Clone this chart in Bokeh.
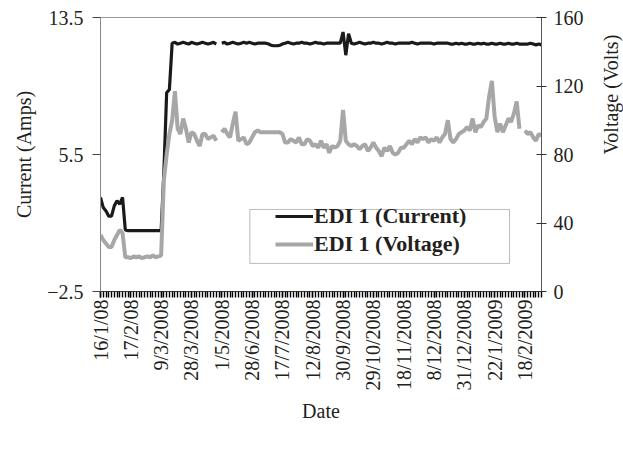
import math
import numpy as np
from bokeh.plotting import figure
from bokeh.models import (Range1d, LinearAxis, FixedTicker, Legend, LegendItem,
                          BoxAnnotation, ColumnDataSource)
from bokeh.embed import file_html
from bokeh.resources import INLINE

nan = float("nan")

# ---- data -------------------------------------------------------------
tick_labels = ["16/1/08", "17/2/08", "9/3/2008", "28/3/2008", "1/5/2008",
               "28/6/2008", "17/7/2008", "12/8/2008", "30/9/2008",
               "29/10/2008", "18/11/2008", "8/12/2008", "31/12/2008",
               "22/1/2009", "18/2/2009"]
label_step = 11

current_amps = [
    3.0, 2.4, 2.2, 1.9, 1.9, 2.5, 2.8, 2.6, 3.0, 1.1,            # 0-9
    1.05, 1.05, 1.05, 1.05, 1.05, 1.05, 1.05, 1.05, 1.05, 1.05,  # 10-19
    1.05, 1.05, 1.05, 4.5, 9.1, 9.3, 12.0, 12.05, 11.95, 12.0,   # 20-29
    12.05, 12.0, 11.95, 12.05, 12.0, 11.95, 12.0, 12.05, 12.0, 11.95,  # 30-39
    12.0, 12.05, 11.95, nan, 12.0, 12.05, 11.95, 12.0, 12.05, 12.0,    # 40-49
    11.95, 12.0, 12.05, 12.0, 12.05, 12.0, 11.95, 12.0, 12.0, 12.0,    # 50-59
    12.0, 11.95, 11.87, 11.85, 11.85, 11.87, 11.95, 12.0, 12.05, 12.0, # 60-69
    11.95, 12.0, 12.0, 12.05, 12.0, 12.0, 11.95, 12.0, 12.05, 12.0,    # 70-79
    12.0, 11.95, 12.0, 12.0, 12.0, 12.0, 12.0, 12.0, 12.65, 11.3,      # 80-89
    12.55, 12.0, 11.95, 12.0, 12.05, 12.0, 11.95, 12.0, 12.0, 12.05,   # 90-99
    12.0, 12.0, 11.95, 12.0, 12.05, 12.0, 12.0, 11.95, 12.0, 12.0,     # 100-109
    12.0, 12.0, 12.0, 12.05, 12.0, 11.95, 12.0, 12.0, 12.0, 12.0,      # 110-119
    12.0, 11.95, 12.0, 12.0, 12.0, 12.0, 12.0, 11.95, 11.95, 12.0,     # 120-129
    11.95, 12.0, 11.95, 11.95, 12.0, 11.95, 11.95, 12.0, 11.95, 12.0,  # 130-139
    11.95, 11.95, 12.0, 11.95, 11.95, 12.0, 11.95, 11.95, 12.0, 11.95, # 140-149
    11.95, 12.0, 11.95, 11.95, 11.95, 11.95, 12.0, 11.95, 11.9, 11.95, # 150-159
    11.9,                                                               # 160
]

voltage_volts = [
    33, 30, 28, 26, 26, 30, 33, 36, 34, 20,            # 0-9
    20, 19.5, 20.5, 20, 20.5, 19.5, 20, 20.5, 20, 21,  # 10-19
    20, 20.5, 21, 65, 80, 92, 100, 117, 95, 92,        # 20-29
    101, 95, 87, 93, 92, 88, 85, 92, 92, 89,           # 30-39
    90, 91, 88, nan, 93, 95, 92, 90, 98, 105,          # 40-49
    88, 89, 90, 86, 87, 90, 93, 94, 93, 93,            # 50-59
    93, 93, 93, 93, 93, 93, 92, 87, 87, 89,            # 60-69
    88, 87, 90, 86, 86, 89, 88, 85, 86, 84,            # 70-79
    88, 84, 86, 81, 85, 84, 85, 88, 106, 88,           # 80-89
    86, 85, 86, 85, 83, 85, 86, 82, 84, 87,            # 90-99
    84, 82, 79, 84, 82, 85, 81, 80, 81, 84,            # 100-109
    84, 86, 88, 86, 89, 87, 90, 89, 90, 87,            # 110-119
    89, 88, 90, 87, 90, 92, 100, 89, 87, 89,           # 120-129
    92, 93, 94, 96, 94, 101, 93, 97, 96, 99,           # 130-139
    101, 114, 123, 102, 93, 98, 93, 97, 101, 99,       # 140-149
    104, 111, 95, nan, 94, 92, 93, 90, 88, 92,         # 150-159
    91,                                                 # 160
]

current_ticks = [-2.5, 5.5, 13.5]
voltage_ticks = [0, 40, 80, 120, 160]

# ---- figure -----------------------------------------------------------
FONT = "Liberation Serif"
TXT = "#231f20"
n = len(current_amps)
idx = np.arange(n)

src = ColumnDataSource(dict(x=idx,
                            cur=np.array(current_amps, dtype=float),
                            volt=np.array(voltage_volts, dtype=float)))

p = figure(frame_width=441, frame_height=274,
           x_range=Range1d(0, n - 1), y_range=Range1d(-2.5, 13.5),
           output_backend="svg", toolbar_location=None,
           min_border_left=100, min_border_right=82,
           min_border_top=17, min_border_bottom=150)
p.extra_y_ranges = {"volt": Range1d(0, 160)}
p.xgrid.visible = False
p.ygrid.visible = False
p.outline_line_color = "#9a9a9a"
p.outline_line_width = 1
p.background_fill_color = "white"
p.border_fill_color = "white"

r_cur = p.line("x", "cur", source=src, line_color="#1a1a1a", line_width=3.2)
r_volt = p.line("x", "volt", source=src, y_range_name="volt",
                line_color="#a7a7a9", line_width=4)

# bottom axis: a tick on every sample, a date label on every 11th
xa = p.xaxis[0]
label_pos = list(range(0, n, label_step))[:len(tick_labels)]
lab_map = dict(zip(label_pos, tick_labels))
xa.ticker = FixedTicker(ticks=label_pos, minor_ticks=[float(i) for i in range(n)])
xa.major_label_overrides = {i: lab_map[i] for i in label_pos}
xa.major_label_orientation = math.pi / 2
xa.major_tick_in = 0
xa.major_tick_out = 6
xa.major_tick_line_width = 1.4
xa.major_tick_line_color = "#000000"
xa.minor_tick_in = 0
xa.minor_tick_out = 6
xa.minor_tick_line_width = 1.4
xa.minor_tick_line_color = "#000000"
xa.axis_line_color = "#444444"
xa.axis_label = "Date"
xa.axis_label_text_font = FONT
xa.axis_label_text_font_style = "normal"
xa.axis_label_text_font_size = "20px"
xa.axis_label_text_color = TXT
xa.axis_label_standoff = 6
xa.major_label_text_font = FONT
xa.major_label_text_font_size = "20px"
xa.major_label_text_color = TXT
xa.major_label_standoff = 2

# left axis (current)
ya = p.yaxis[0]
ya.ticker = FixedTicker(ticks=current_ticks, minor_ticks=[])
ya.major_label_overrides = {-2.5: "\u22122.5"}
ya.major_tick_in = 0
ya.major_tick_out = 8
ya.axis_line_color = "#8a8a8a"
ya.major_tick_line_color = "#444444"
ya.axis_label = "Current (Amps)"
ya.axis_label_text_font = FONT
ya.axis_label_text_font_style = "normal"
ya.axis_label_text_font_size = "20px"
ya.axis_label_text_color = TXT
ya.axis_label_standoff = 9
ya.major_label_text_font = FONT
ya.major_label_text_font_size = "20px"
ya.major_label_text_color = TXT
ya.major_label_standoff = 9

# right axis (voltage)
ra = LinearAxis(y_range_name="volt",
                ticker=FixedTicker(ticks=voltage_ticks, minor_ticks=[]),
                axis_label="Voltage (Volts)")
ra.major_tick_in = 5
ra.major_tick_out = 5
ra.axis_line_color = "#555555"
ra.major_tick_line_color = "#333333"
ra.axis_label_text_font = FONT
ra.axis_label_text_font_style = "normal"
ra.axis_label_text_font_size = "20px"
ra.axis_label_text_color = TXT
ra.axis_label_standoff = 24
ra.major_label_text_font = FONT
ra.major_label_text_font_size = "20px"
ra.major_label_text_color = TXT
ra.major_label_standoff = 7
try:
    ra.axis_label_orientation = math.pi / 2
except Exception:
    pass
p.add_layout(ra, "right")

# legend frame + legend
box = BoxAnnotation(left=54.2, right=148.4, bottom=-0.86, top=2.29,
                    fill_color="white", fill_alpha=1.0,
                    line_color="#231f20", line_width=1)
p.add_layout(box)

legend = Legend(items=[LegendItem(label="EDI 1 (Current)", renderers=[r_cur]),
                       LegendItem(label="EDI 1 (Voltage)", renderers=[r_volt])],
                location=(175, 34), padding=0, margin=0,
                border_line_alpha=0, background_fill_alpha=0,
                glyph_width=38, glyph_height=20, label_height=20,
                spacing=2, label_standoff=1,
                label_text_font=FONT, label_text_font_style="bold",
                label_text_font_size="22px", label_text_color=TXT)
p.add_layout(legend)

open("out.html", "w").write(file_html(p, INLINE))
